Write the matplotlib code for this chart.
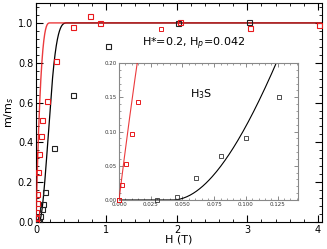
import numpy as np
import matplotlib
matplotlib.use("Agg")
import matplotlib.pyplot as plt
from matplotlib.ticker import MultipleLocator, FormatStrFormatter

# Data
H_red = [0, 0.0021, 0.0053, 0.010, 0.015, 0.033, 0.047, 0.066, 0.09, 0.15,
         0.28, 0.53, 0.77, 0.91, 2.04, 3.04, 4.02]
m_red = [0, 0.022, 0.052, 0.096, 0.143, 0.25, 0.34, 0.43, 0.51, 0.61,
         0.81, 0.98, 1.035, 1.0, 1.007, 0.976, 0.99]
H_blk = [0, 0.030, 0.046, 0.061, 0.080, 0.100, 0.126, 0.26, 0.52, 1.02, 2.02, 3.02]
m_blk = [0, 0, 0.005, 0.032, 0.064, 0.091, 0.151, 0.37, 0.64, 0.886, 1.0, 1.005]

Hstar = 0.2
Hp = 0.042

# Bean-model (cylinder) curves
d = np.linspace(0, 1, 2001)
w = 2 * (1 - d) * 3.0


def zfc(t):
    if t <= 0:
        return 0.0
    up = np.maximum(t - d, 0)
    B = np.minimum(up, d)
    return np.trapezoid(B * w, d)


def fc(t):
    B = np.minimum(d, t)
    return np.trapezoid(B * w, d)


Hc = np.concatenate([np.linspace(0, 0.5, 600), np.linspace(0.5, 4.1, 50)])
m_zfc = np.array([zfc((h - Hp) / Hstar) for h in Hc])
m_fc = np.array([fc(h / Hstar) for h in Hc])

red = "#e8191c"
fig = plt.figure(figsize=(3.27, 2.49), dpi=100)
ax = fig.add_axes([36 / 327, 1 - 222 / 249, 286 / 327, 219 / 249])
ax.plot(Hc, m_zfc, color="black", lw=0.9, zorder=2)
ax.plot(Hc, m_fc, color=red, lw=1.0, alpha=0.85, zorder=3)
ax.plot(H_blk, m_blk, ls="none", marker="s", ms=3.6, mfc="none", mec="#222222", mew=0.8, zorder=4)
ax.plot(H_red, m_red, ls="none", marker="s", ms=3.6, mfc="none", mec=red, mew=0.8, zorder=5)
ax.set_xlim(0, 4.06)
ax.set_ylim(0, 1.1)
ax.xaxis.set_major_locator(MultipleLocator(1))
ax.xaxis.set_minor_locator(MultipleLocator(0.2))
ax.yaxis.set_major_locator(MultipleLocator(0.2))
ax.yaxis.set_minor_locator(MultipleLocator(0.04))
ax.yaxis.set_major_formatter(FormatStrFormatter("%.1f"))
ax.tick_params(which="both", direction="in", top=True, right=True, labelsize=7, pad=2)
ax.tick_params(which="major", length=5, width=0.8)
ax.tick_params(which="minor", length=2.5, width=0.6)
ax.set_xlabel("H (T)", fontsize=8, labelpad=0)
ax.set_ylabel("m/m$_s$", fontsize=8, labelpad=1)
ax.text(2.23, 0.895, "H*=0.2, H$_p$=0.042", fontsize=8, ha="center", va="center")

# inset
axi = fig.add_axes([119 / 327, 1 - 200 / 249, 179 / 327, 137 / 249])
axi.plot(Hc, m_zfc, color="black", lw=0.8, zorder=2)
axi.plot(Hc, m_fc, color=red, lw=0.8, alpha=0.85, zorder=3)
axi.plot(H_blk, m_blk, ls="none", marker="s", ms=3.2, mfc="none", mec="#333333", mew=0.6, zorder=4, clip_on=False)
axi.plot(H_red, m_red, ls="none", marker="s", ms=3.2, mfc="none", mec=red, mew=0.7, zorder=5, clip_on=False)
axi.set_xlim(0, 0.141)
axi.set_ylim(0, 0.2)
axi.xaxis.set_major_locator(MultipleLocator(0.025))
axi.xaxis.set_minor_locator(MultipleLocator(0.005))
axi.yaxis.set_major_locator(MultipleLocator(0.05))
axi.yaxis.set_minor_locator(MultipleLocator(0.01))
axi.xaxis.set_major_formatter(FormatStrFormatter("%.3f"))
axi.yaxis.set_major_formatter(FormatStrFormatter("%.2f"))
axi.tick_params(which="both", direction="in", top=True, right=True, labelsize=4, pad=1.5,
                color="#777777", labelcolor="#333333")
axi.tick_params(which="major", length=3, width=0.6)
axi.tick_params(which="minor", length=1.5, width=0.5)
for s in axi.spines.values():
    s.set_color("#888888")
    s.set_linewidth(0.8)
axi.text(0.065, 0.155, "H$_3$S", fontsize=8, ha="center", va="center")

fig.savefig("out.png", dpi=100)
